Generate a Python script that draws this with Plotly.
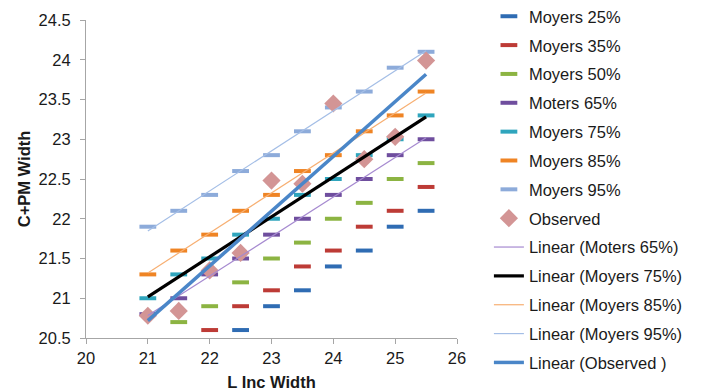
import numpy as np
import plotly.graph_objects as go

x_vals = [21, 21.5, 22, 22.5, 23, 23.5, 24, 24.5, 25, 25.5]

moyers_25_x = [22.5, 23, 23.5, 24, 24.5, 25, 25.5]
moyers_25 = [20.6, 20.9, 21.1, 21.4, 21.6, 21.9, 22.1]
moyers_35_x = [22, 22.5, 23, 23.5, 24, 24.5, 25, 25.5]
moyers_35 = [20.6, 20.9, 21.1, 21.4, 21.6, 21.9, 22.1, 22.4]
moyers_50_x = [21.5, 22, 22.5, 23, 23.5, 24, 24.5, 25, 25.5]
moyers_50 = [20.7, 20.9, 21.2, 21.5, 21.7, 22.0, 22.2, 22.5, 22.7]
moters_65 = [20.8, 21.0, 21.3, 21.5, 21.8, 22.0, 22.3, 22.5, 22.8, 23.0]
moyers_75 = [21.0, 21.3, 21.5, 21.8, 22.0, 22.3, 22.5, 22.8, 23.0, 23.3]
moyers_85 = [21.3, 21.6, 21.8, 22.1, 22.3, 22.6, 22.8, 23.1, 23.3, 23.6]
moyers_95 = [21.9, 22.1, 22.3, 22.6, 22.8, 23.1, 23.4, 23.6, 23.9, 24.1]
observed = [20.78, 20.84, 21.35, 21.57, 22.48, 22.44, 23.45, 22.75, 23.03, 23.99]

FONT = "Arial, Liberation Sans, sans-serif"
FS = 16.5

fig = go.Figure()

dash_series = [
    ("Moyers 25%", moyers_25_x, moyers_25, "#2F6CB3"),
    ("Moyers 35%", moyers_35_x, moyers_35, "#BD3B36"),
    ("Moyers 50%", moyers_50_x, moyers_50, "#8CB442"),
    ("Moters 65%", x_vals, moters_65, "#6F4E9E"),
    ("Moyers 75%", x_vals, moyers_75, "#2FA5BD"),
    ("Moyers 85%", x_vals, moyers_85, "#EF8424"),
    ("Moyers 95%", x_vals, moyers_95, "#8DABDA"),
]

gi = 0
for name, xs, ys, col in dash_series:
    fig.add_trace(go.Scatter(
        x=xs, y=ys, mode="markers", name=name, legendgroup=f"g{gi}",
        marker=dict(symbol="line-ew", size=12, color=col,
                    line=dict(color=col, width=4)),
    ))
    gi += 1

fig.add_trace(go.Scatter(
    x=x_vals, y=observed, mode="markers", name="Observed", legendgroup=f"g{gi}",
    marker=dict(symbol="diamond", size=14, color="#D39595"),
))
gi += 1

trend_series = [
    ("Linear (Moters 65%)", moters_65, "#A68AD0", 1.2),
    ("Linear (Moyers 75%)", moyers_75, "#000000", 3.2),
    ("Linear (Moyers 85%)", moyers_85, "#F7AF72", 1.2),
    ("Linear (Moyers 95%)", moyers_95, "#A4BEE6", 1.2),
    ("Linear (Observed )", observed, "#4A86C8", 3.5),
]

xa = np.array(x_vals)
xe = np.array([x_vals[0], x_vals[-1]])
for name, ys, col, w in trend_series:
    m, b = np.polyfit(xa, np.array(ys), 1)
    fig.add_trace(go.Scatter(
        x=xe, y=m * xe + b, mode="lines", name=name, legendgroup=f"g{gi}",
        line=dict(color=col, width=w),
    ))
    gi += 1

axis_common = dict(
    showgrid=False, zeroline=False, showline=True, linecolor="#A6A6A6",
    linewidth=1, ticks="outside", ticklen=5, tickcolor="#A6A6A6",
    tickfont=dict(family=FONT, size=FS, color="#1a1a1a"),
)

fig.update_layout(
    width=704, height=391,
    margin=dict(l=86, r=247, t=20, b=53, autoexpand=False),
    paper_bgcolor="white", plot_bgcolor="white",
    font=dict(family=FONT, size=FS, color="#1a1a1a"),
    xaxis=dict(range=[20, 26], dtick=1, tick0=20,
               title=dict(text="<b>L Inc Width</b>", standoff=13,
                          font=dict(family=FONT, size=FS)),
               **axis_common),
    yaxis=dict(range=[20.5, 24.5], dtick=0.5, tick0=20.5,
               ticklabelstandoff=6,
               title=dict(text="<b>C+PM Width</b>", standoff=3,
                          font=dict(family=FONT, size=FS)),
               **axis_common),
    legend=dict(x=1.086, xanchor="left", y=1.066, yanchor="top",
                maxheight=391, traceorder="grouped", tracegroupgap=4.4,
                font=dict(family=FONT, size=FS, color="#1a1a1a"),
                bgcolor="rgba(0,0,0,0)"),
    showlegend=True,
)

fig.write_html("out.html", config={"displayModeBar": False},
               post_script="document.body.style.margin='0';")
